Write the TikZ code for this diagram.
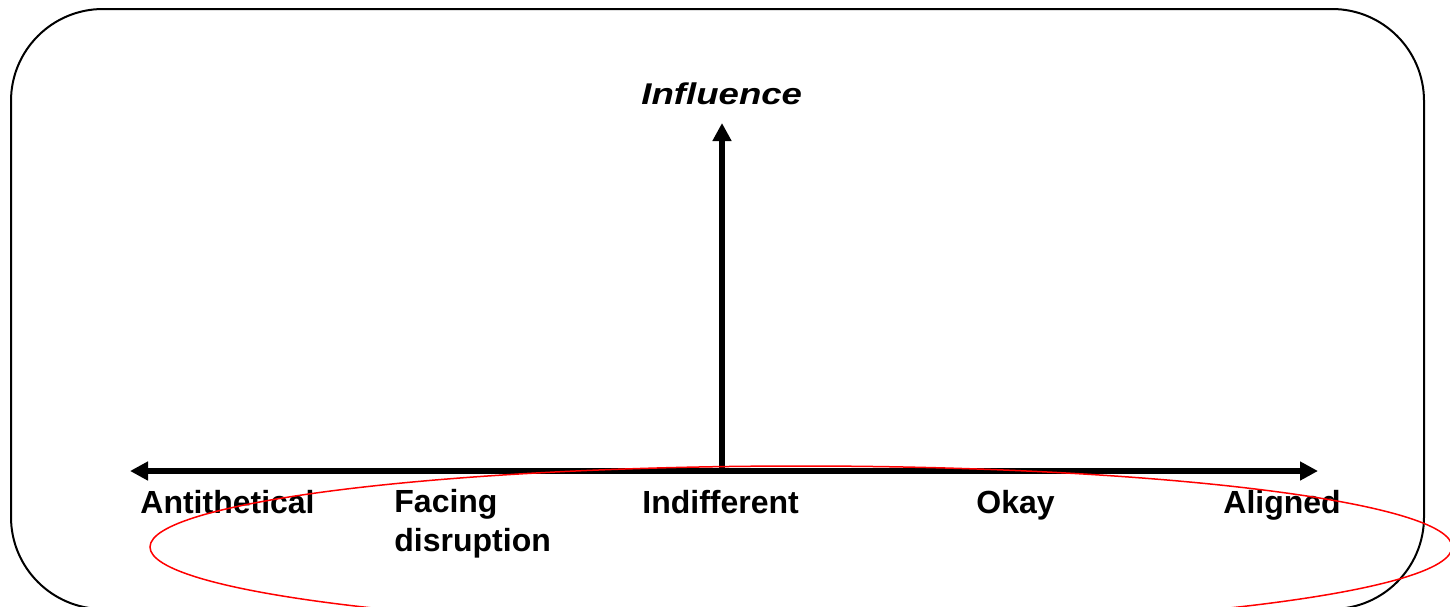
\documentclass[tikz,border=0pt]{standalone}
\usepackage{fontspec}
\setmainfont{Liberation Sans}
\usetikzlibrary{positioning}
\usetikzlibrary{arrows.meta}

\tikzset{
  axis/.style={line width=3pt, -{Triangle[length=9pt,width=9pt]}},
  scalelabel/.style={anchor=base west, inner sep=0pt, font=\fontsize{16pt}{19.5pt}\selectfont\bfseries, align=left}
}

\begin{document}
\begin{tikzpicture}[x=0.5pt, y=-0.5pt]

\useasboundingbox (0,0) rectangle (1450,606);
\clip (0,0) rectangle (1450,606);

% frame
\draw[line width=1pt, rounded corners=46pt] (11,9) rectangle (1424,609);

\coordinate (O) at (722, 471);
\coordinate (L) at (130, 471);
\coordinate (R) at (1318, 471);
\coordinate (T) at (722, 123);

\draw[axis] (O) -- (L);
\draw[axis] (O) -- (R);
\draw[axis] (O) -- (T);

\node[anchor=base west, inner sep=0pt, font=\fontsize{15pt}{18pt}\selectfont\bfseries\itshape] (infl) at (641, 104) {\scalebox{1.22}[1]{Influence}};

\node[scalelabel] (anti) at (140, 513) {Antithetical};
\node[scalelabel] (facing) at (394, 551) {Facing\\disruption};
\node[scalelabel] (indiff) at (642, 513) {Indifferent};
\node[scalelabel] (okay) at (976, 513) {Okay};
\node[scalelabel] (aligned) at (1223, 513) {Aligned};

% highlight
\draw[red, line width=0.75pt] (801, 547) ellipse [x radius=651, y radius=81];

\end{tikzpicture}
\end{document}
